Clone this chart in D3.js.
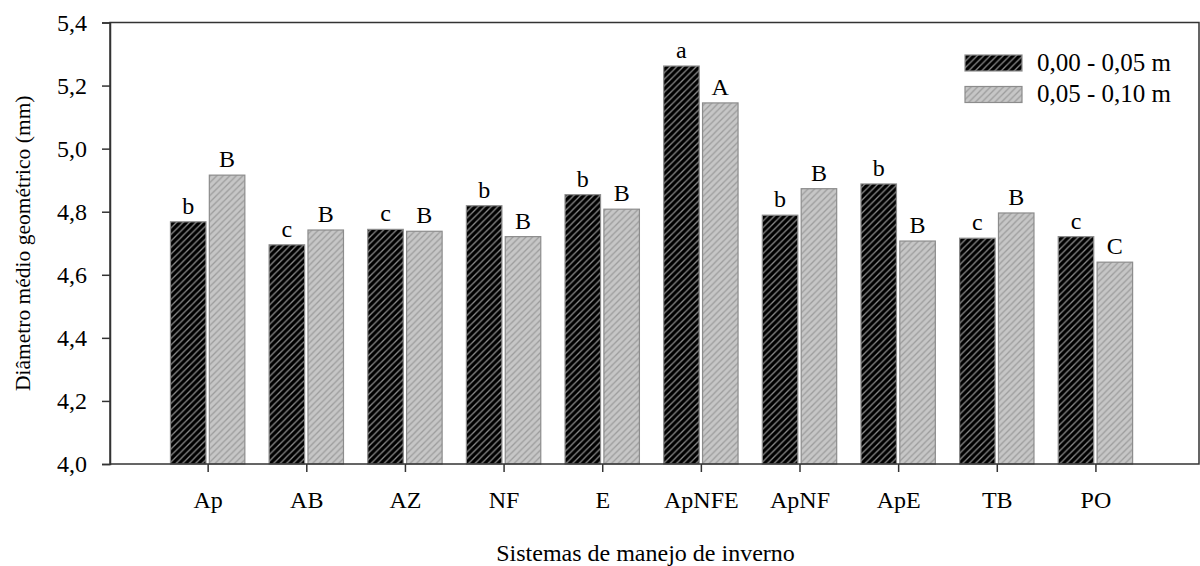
<!DOCTYPE html>
<html>
<head>
<meta charset="utf-8">
<script src="https://cdn.jsdelivr.net/npm/d3@7"></script>
<style>
  body { margin: 0; background: #fff; }
  text { font-family: "Liberation Serif", "Times New Roman", serif; fill: #000; }
</style>
</head>
<body>
<div id="chart"></div>
<script>
var width = 1200,
    height = 566,
    margin = {top: 22.5, right: 1, bottom: 102, left: 110};

var categories = ["Ap", "AB", "AZ", "NF", "E", "ApNFE", "ApNF", "ApE", "TB", "PO"];
var depth1 = [4.768, 4.695, 4.744, 4.819, 4.854, 5.262, 4.789, 4.888, 4.716, 4.721];
var depth2 = [4.916, 4.742, 4.738, 4.721, 4.808, 5.145, 4.873, 4.707, 4.796, 4.640];
var letters1 = ["b", "c", "c", "b", "b", "a", "b", "b", "c", "c"];
var letters2 = ["B", "B", "B", "B", "B", "A", "B", "B", "B", "C"];
var seriesNames = ["0,00 - 0,05 m", "0,05 - 0,10 m"];
var yTicks = [4.0, 4.2, 4.4, 4.6, 4.8, 5.0, 5.2, 5.4];

var innerW = width - margin.left - margin.right,
    innerH = height - margin.top - margin.bottom;

var svg = d3.select("#chart").append("svg")
  .attr("width", width)
  .attr("height", height);

// hatch patterns
var defs = svg.append("defs");
function hatch(id, bg, fg) {
  var p = defs.append("pattern")
    .attr("id", id)
    .attr("patternUnits", "userSpaceOnUse")
    .attr("width", 6.5)
    .attr("height", 6.5);
  p.append("rect").attr("width", 6.5).attr("height", 6.5).attr("fill", bg);
  p.append("path")
    .attr("d", "M-1,1 l2,-2 M0,6.5 l6.5,-6.5 M5.5,7.5 l2,-2")
    .attr("stroke", fg)
    .attr("stroke-width", 1.3);
}
hatch("hatchBlack", "#000", "#8a8a8a");
hatch("hatchGrey", "#c6c6c6", "#9c9c9c");
var fills = ["url(#hatchBlack)", "url(#hatchGrey)"];

var g = svg.append("g")
  .attr("transform", "translate(" + margin.left + "," + margin.top + ")");

var x = d3.scaleLinear()
  .domain([-0.99, 10.05])
  .range([0, innerW]);

var y = d3.scaleLinear()
  .domain([4.0, 5.4])
  .range([innerH, 0]);

var barW = 0.36, gap = 0.017;

var data = categories.map(function(c, i) {
  return {cat: c, i: i, vals: [depth1[i], depth2[i]], lets: [letters1[i], letters2[i]]};
});

// bars
var groups = g.selectAll("g.cat")
  .data(data)
  .enter().append("g")
  .attr("class", "cat");

[0, 1].forEach(function(s) {
  groups.append("rect")
    .attr("x", function(d) { return s === 0 ? x(d.i - gap - barW) : x(d.i + gap); })
    .attr("y", function(d) { return y(d.vals[s]); })
    .attr("width", x(barW) - x(0))
    .attr("height", function(d) { return innerH - y(d.vals[s]); })
    .attr("fill", fills[s])
    .attr("stroke", "#8c8c8c")
    .attr("stroke-width", 1.2);

  groups.append("text")
    .attr("x", function(d) {
      return s === 0 ? x(d.i - gap - barW / 2) : x(d.i + gap + barW / 2);
    })
    .attr("y", function(d) { return y(d.vals[s]) - 8; })
    .attr("text-anchor", "middle")
    .style("font-size", "24px")
    .text(function(d) { return d.lets[s]; });
});

// frame
g.append("rect")
  .attr("width", innerW)
  .attr("height", innerH)
  .attr("fill", "none")
  .attr("stroke", "#333")
  .attr("stroke-width", 1.5);

// y axis
var yAxis = d3.axisLeft(y)
  .tickValues(yTicks)
  .tickSize(8)
  .tickPadding(15)
  .tickFormat(function(d) { return d3.format(".1f")(d).replace(".", ","); });

var ya = g.append("g").call(yAxis);
ya.select(".domain").attr("stroke", "#333").attr("stroke-width", 1.5);
ya.selectAll(".tick line").attr("stroke", "#333").attr("stroke-width", 1.5);
ya.selectAll(".tick text")
  .style("font-family", "Liberation Serif, serif")
  .style("font-size", "24px")
  .attr("fill", "#000");

// x axis
var xAxis = d3.axisBottom(x)
  .tickValues(d3.range(categories.length))
  .tickSize(8)
  .tickPadding(19)
  .tickFormat(function(i) { return categories[i]; });

var xa = g.append("g")
  .attr("transform", "translate(0," + innerH + ")")
  .call(xAxis);
xa.select(".domain").remove();
xa.selectAll(".tick line").attr("stroke", "#333").attr("stroke-width", 1.5);
xa.selectAll(".tick text")
  .style("font-family", "Liberation Serif, serif")
  .style("font-size", "24px")
  .attr("fill", "#000");

// axis titles
svg.append("text")
  .attr("x", margin.left + innerW / 2 - 9)
  .attr("y", 561)
  .attr("text-anchor", "middle")
  .style("font-size", "24px")
  .text("Sistemas de manejo de inverno");

svg.append("text")
  .attr("transform", "translate(30," + (margin.top + innerH / 2) + ") rotate(-90)")
  .attr("text-anchor", "middle")
  .style("font-size", "21.5px")
  .text("Diâmetro médio geométrico (mm)");

// legend
var legend = svg.append("g")
  .attr("transform", "translate(965,55)");

seriesNames.forEach(function(name, s) {
  var row = legend.append("g").attr("transform", "translate(0," + (s * 31.5) + ")");
  row.append("rect")
    .attr("width", 57)
    .attr("height", 16)
    .attr("fill", fills[s])
    .attr("stroke", "#8c8c8c")
    .attr("stroke-width", 1.2);
  row.append("text")
    .attr("x", 72)
    .attr("y", 15.5)
    .style("font-size", "25px")
    .text(name);
});
</script>
</body>
</html>
